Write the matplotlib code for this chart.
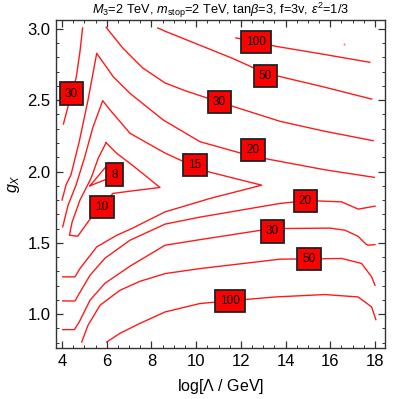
import matplotlib
matplotlib.use('Agg')
import matplotlib.pyplot as plt
from matplotlib.ticker import MultipleLocator

plt.rcParams['font.family'] = 'Liberation Sans'
plt.rcParams['mathtext.fontset'] = 'custom'
plt.rcParams['mathtext.rm'] = 'Liberation Sans'
plt.rcParams['mathtext.it'] = 'Liberation Sans:italic'

# contour lines: x = log(Lambda/GeV), y = g_X
c100_hi_x = [11.78, 12.68, 13.53, 15.63, 17.77]
c100_hi_y = [2.937, 2.909, 2.879, 2.824, 2.766]

c50_hi_x = [8.28, 8.61, 10.10, 11.59, 13.10, 15.76, 17.85]
c50_hi_y = [3.007, 2.984, 2.890, 2.796, 2.690, 2.591, 2.508]

c30_hi_x = [5.97, 6.71, 7.61, 8.61, 9.50, 11.04, 13.75, 15.76, 17.92]
c30_hi_y = [3.012, 2.867, 2.726, 2.621, 2.567, 2.487, 2.352, 2.282, 2.216]

c30_left_x = [4.92, 4.80, 4.63, 4.42, 4.25, 4.06]
c30_left_y = [3.007, 2.84, 2.656, 2.547, 2.445, 2.333]

c20_hi_x = [4.00, 4.18, 4.40, 4.77, 5.15, 5.55, 6.29, 7.04, 8.53, 10.17, 12.04, 13.03, 15.76, 17.97]
c20_hi_y = [1.80, 1.907, 1.977, 2.211, 2.492, 2.829, 2.665, 2.548, 2.361, 2.209, 2.127, 2.092, 2.012, 1.959]

c15_x = [4.03, 4.27, 4.63, 5.00, 5.37, 5.82, 6.15, 7.04, 8.61, 9.42, 10.47, 12.93,
         10.62, 8.61, 7.12, 6.45, 5.55, 4.80, 4.58, 4.03]
c15_y = [1.612, 1.764, 1.907, 2.094, 2.305, 2.497, 2.431, 2.268, 2.129, 2.071, 2.001, 1.904,
         1.811, 1.717, 1.600, 1.553, 1.471, 1.319, 1.261, 1.261]

c10_x = [5.97, 6.45, 7.04, 7.79, 8.38, 7.04, 6.27, 5.77, 5.22, 4.70, 4.33, 4.45, 4.80, 5.30, 5.62, 5.97]
c10_y = [2.202, 2.127, 2.057, 1.963, 1.888, 1.862, 1.846, 1.752, 1.659, 1.546, 1.553, 1.645, 1.799, 1.954, 2.094, 2.202]

c8_x = [5.25, 5.97, 6.50, 5.97, 5.25]
c8_y = [1.90, 2.035, 2.00, 1.945, 1.90]

c20_lo_x = [4.03, 4.58, 4.80, 5.25, 5.92, 7.04, 8.61, 10.17, 13.75, 14.89, 15.39, 16.51, 17.25, 18.00]
c20_lo_y = [1.092, 1.092, 1.153, 1.272, 1.392, 1.518, 1.631, 1.680, 1.776, 1.794, 1.794, 1.787, 1.736, 1.757]

c30_lo_x = [4.03, 4.55, 4.77, 5.25, 5.92, 7.04, 8.61, 10.17, 12.90, 13.90, 15.99, 16.66, 17.24, 17.60, 17.70, 18.00]
c30_lo_y = [0.891, 0.891, 0.945, 1.097, 1.216, 1.336, 1.483, 1.522, 1.588, 1.600, 1.603, 1.588, 1.546, 1.490, 1.483, 1.487]

c50_lo_x = [4.88, 5.16, 5.70, 6.59, 7.49, 8.61, 10.17, 13.75, 15.04, 16.51, 17.40, 17.85, 18.00]
c50_lo_y = [0.804, 0.921, 1.062, 1.167, 1.230, 1.284, 1.319, 1.385, 1.387, 1.390, 1.355, 1.261, 1.202]

c100_lo_x = [6.00, 6.59, 7.49, 8.61, 10.17, 11.51, 13.53, 15.76, 17.25, 17.85, 18.04]
c100_lo_y = [0.804, 0.865, 0.935, 1.015, 1.074, 1.093, 1.120, 1.137, 1.120, 1.050, 0.961]

# stray speck in the upper right
speck_x = [16.63]
speck_y = [2.895]

# contour labels
lab_text = ['100', '50', '30', '20', '15', '8', '10', '30', '20', '30', '50', '100']
lab_x = [12.68, 13.10, 11.04, 12.54, 9.95, 6.34, 5.77, 4.42, 14.89, 13.41, 15.04, 11.51]
lab_y = [2.909, 2.670, 2.487, 2.150, 2.045, 1.977, 1.752, 2.547, 1.794, 1.581, 1.387, 1.093]

lines = [(c100_hi_x, c100_hi_y), (c50_hi_x, c50_hi_y), (c30_hi_x, c30_hi_y),
         (c30_left_x, c30_left_y), (c20_hi_x, c20_hi_y), (c15_x, c15_y),
         (c10_x, c10_y), (c8_x, c8_y), (c20_lo_x, c20_lo_y), (c30_lo_x, c30_lo_y),
         (c50_lo_x, c50_lo_y), (c100_lo_x, c100_lo_y)]

fig = plt.figure(figsize=(3.99, 3.99), dpi=100)
ax = fig.add_axes([0.1404, 0.1278, 0.8246, 0.8222])

for xs, ys in lines:
    ax.plot(xs, ys, color='#ff1a1a', lw=1.0, solid_joinstyle='round')
ax.plot(speck_x, speck_y, 's', color='#ff6666', ms=1.2, mew=0)

for t, x, y in zip(lab_text, lab_x, lab_y):
    ax.text(x, y, t, ha='center', va='center', fontsize=8.5, color='black',
            bbox=dict(boxstyle='square,pad=0.45', fc='#ff0000', ec='#222222', lw=1.3))

ax.set_xlim(3.73, 18.45)
ax.set_ylim(0.762, 3.063)
ax.xaxis.set_major_locator(MultipleLocator(2))
ax.xaxis.set_minor_locator(MultipleLocator(0.5))
ax.yaxis.set_major_locator(MultipleLocator(0.5))
ax.yaxis.set_minor_locator(MultipleLocator(0.1))
ax.tick_params(which='both', direction='in', top=True, right=True, labelsize=12,
               colors='#333333', labelcolor='black', pad=4)
ax.tick_params(which='major', length=5, width=0.9)
ax.tick_params(which='minor', length=2.5, width=0.7)
for s in ax.spines.values():
    s.set_color('#333333')
    s.set_linewidth(1.0)

ax.set_xlabel(r'log[$\Lambda$ / GeV]', fontsize=11.5, labelpad=6)
ax.set_ylabel(r'$g_X$', fontsize=11.5, labelpad=4)
ax.set_title(r'$M_3$=2 TeV, $m_{\rm stop}$=2 TeV, tan$\beta$=3, f=3v, $\epsilon^2$=1/3',
             fontsize=9.2, pad=2)

fig.savefig('out.png', dpi=100)
